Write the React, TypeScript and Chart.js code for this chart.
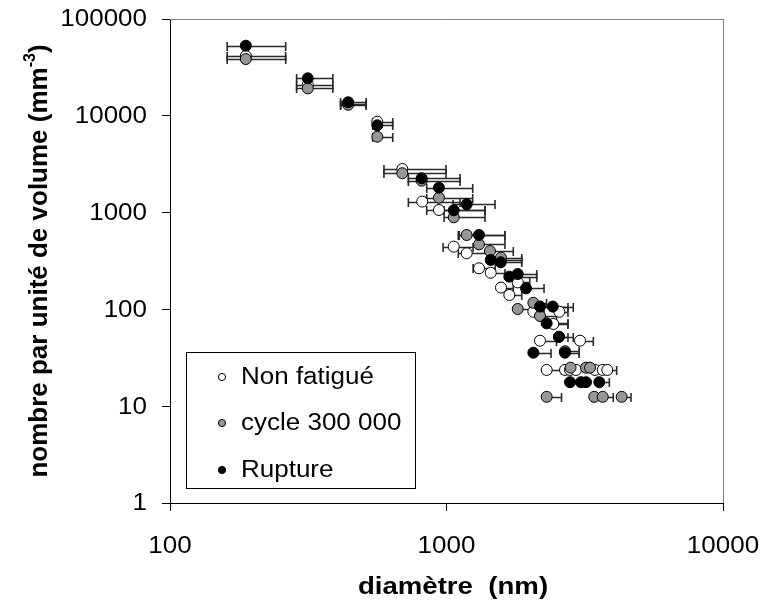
import React, { useEffect, useRef } from "react";
import { Chart, registerables } from "chart.js";

Chart.register(...registerables);

const SERIES_LABELS = ["Non fatigué", "cycle 300 000", "Rupture"];
const SERIES_FILLS = ["#ffffff", "#969696", "#000000"];
const X_TICKS = [100, 1000, 10000];
const Y_TICKS = [1, 10, 100, 1000, 10000, 100000];
const X_TITLE = "diamètre  (nm)";
const Y_TITLE_MAIN = "nombre par unité de volume (mm";
const Y_TITLE_SUP = "-3";
const Y_TITLE_END = ")";

// Non fatigué
const nfDiam = [188, 315, 441, 562, 692, 817, 939, 1062, 1183, 1311, 1445, 1574, 1687, 1810, 2061, 2558, 2434, 2178, 3040, 2303, 2683, 2797, 2940, 3445, 3673, 3815];
const nfDens = [41500, 21000, 13300, 8690, 2820, 1300, 1064, 445, 380, 266, 239, 168, 141, 190, 94.6, 94.6, 70.7, 47.5, 47.5, 23.7, 23.7, 23.7, 23.7, 23.7, 23.7, 23.7];
const nfLow = [161, 287, 414, 541, 594, 728, 848, 972, 1103, 1248, null, null, null, null, null, null, null, null, null, null, null, null, null, null, null, null];
const nfHigh = [262, 388, 512, 639, 996, 1119, 1378, 1248, 1436, 1500, 1627, 1744, 1871, 2000, 2253, 2750, 2750, 2500, 3396, 2606, null, null, null, null, null, 4126];

// cycle 300 000
const cyDiam = [188, 315, 441, 562, 692, 813, 939, 1062, 1183, 1311, 1436, 1574, 1810, 2061, 2178, 2551, 2683, 2810, 3196, 3304, 2303, 3423, 3673, 4301];
const cyDens = [38600, 19200, 13000, 6080, 2550, 2137, 1425, 894, 587, 470, 401, 342, 101, 117, 85.5, 52, 37, 25, 25, 25, 12.5, 12.5, 12.5, 12.5];
const cyLow = [161, 287, 414, 541, 594, 728, 848, 980, 1103, null, null, null, null, null, null, null, null, null, null, null, null, null, null, null];
const cyHigh = [262, 388, 512, 639, 996, 1119, 1244, 1378, 1627, 1627, 1744, 1871, 2000, 2300, 2500, 2750, 3018, null, null, null, 2606, null, 4010, 4649];

// Rupture
const ruDiam = [188, 315, 441, 562, 813, 939, 1183, 1062, 1311, 1445, 1571, 1687, 1810, 1940, 2178, 2422, 2303, 2551, 2061, 2683, 2797, 3065, 3196, 3569];
const ruDens = [53000, 24400, 13800, 7980, 2260, 1808, 1219, 1057, 587, 324, 307, 218, 232, 165, 107, 107, 71.8, 52.2, 35.7, 35.7, 17.7, 17.7, 17.7, 17.7];
const ruLow = [161, 287, 414, 541, 728, 848, 1056, 980, 1112, null, null, null, null, null, null, null, null, null, null, null, null, null, null, null];
const ruHigh = [262, 388, 512, 639, 1119, 1244, 1498, 1378, 1627, 1871, 1871, 2120, 2120, 2253, 2750, 2874, 2750, 2874, 2388, 3018, null, null, null, 3881];

const FONT = "'Liberation Sans', Arial, sans-serif";
const SX = 1.13; // horizontal stretch of the reference lettering

function stretchedText(ctx: any, text: string, x: number, y: number, font: string, align: string, sx: number) {
  ctx.save();
  ctx.font = font;
  ctx.textBaseline = "middle";
  ctx.textAlign = "left";
  const w = ctx.measureText(text).width * sx;
  let left = x;
  if (align === "center") left = x - w / 2;
  else if (align === "right") left = x - w;
  ctx.translate(left, y);
  ctx.scale(sx, 1);
  ctx.fillText(text, 0, 0);
  ctx.restore();
}

const errorBarPlugin = {
  id: "errorBars",
  beforeDatasetsDraw(chart: any) {
    const { ctx } = chart;
    const xs = chart.scales.x;
    const ys = chart.scales.y;
    ctx.save();
    ctx.strokeStyle = "#2a2a2a";
    ctx.lineWidth = 1.6;
    chart.data.datasets.forEach((ds: any) => {
      ds.data.forEach((p: any, j: number) => {
        const lo = ds.errLow[j] ?? p.x;
        const hi = ds.errHigh[j] ?? p.x;
        if (lo === p.x && hi === p.x) return;
        const py = Math.round(ys.getPixelForValue(p.y)) + 0.5;
        const x0 = xs.getPixelForValue(lo);
        const x1 = xs.getPixelForValue(hi);
        ctx.beginPath();
        ctx.moveTo(x0, py);
        ctx.lineTo(x1, py);
        if (lo !== p.x) {
          ctx.moveTo(x0, py - 4.5);
          ctx.lineTo(x0, py + 4.5);
        }
        if (hi !== p.x) {
          ctx.moveTo(x1, py - 4.5);
          ctx.lineTo(x1, py + 4.5);
        }
        ctx.stroke();
      });
    });
    ctx.restore();
  },
};

const decorPlugin = {
  id: "decor",
  beforeDatasetsDraw(chart: any) {
    const { ctx, chartArea } = chart;
    ctx.save();
    ctx.strokeStyle = "#808080";
    ctx.lineWidth = 1;
    ctx.beginPath();
    ctx.moveTo(chartArea.left, chartArea.top + 0.5);
    ctx.lineTo(chartArea.right + 0.5, chartArea.top + 0.5);
    ctx.lineTo(chartArea.right + 0.5, chartArea.bottom);
    ctx.stroke();
    ctx.restore();
  },
  afterDraw(chart: any) {
    const { ctx } = chart;
    const xs = chart.scales.x;
    const ys = chart.scales.y;
    ctx.save();
    ctx.fillStyle = "#000";
    // tick labels
    const tickFont = `23px ${FONT}`;
    Y_TICKS.forEach((v) => {
      stretchedText(ctx, String(v), 147, ys.getPixelForValue(v) + 1, tickFont, "right", SX);
    });
    X_TICKS.forEach((v) => {
      stretchedText(ctx, String(v), xs.getPixelForValue(v), 547, tickFont, "center", SX);
    });
    // x title
    stretchedText(ctx, X_TITLE, 453, 588, `bold 23px ${FONT}`, "center", 1.2);
    ctx.restore();

    // y title with superscript
    ctx.save();
    ctx.fillStyle = "#000";
    ctx.translate(38, 261);
    ctx.rotate(-Math.PI / 2);
    const mainFont = `bold 26px ${FONT}`;
    const supFont = `bold 16px ${FONT}`;
    ctx.font = mainFont;
    const w1 = ctx.measureText(Y_TITLE_MAIN).width;
    const w3 = ctx.measureText(Y_TITLE_END).width;
    ctx.font = supFont;
    const w2 = ctx.measureText(Y_TITLE_SUP).width;
    let x = -(w1 + w2 + w3) / 2;
    ctx.textAlign = "left";
    ctx.textBaseline = "alphabetic";
    ctx.font = mainFont;
    ctx.fillText(Y_TITLE_MAIN, x, 9);
    x += w1;
    ctx.font = supFont;
    ctx.fillText(Y_TITLE_SUP, x, -3);
    x += w2;
    ctx.font = mainFont;
    ctx.fillText(Y_TITLE_END, x, 9);
    ctx.restore();

    // legend
    ctx.save();
    const bx = 186, by = 352, bw = 229, bh = 136;
    ctx.fillStyle = "#fff";
    ctx.fillRect(bx, by, bw, bh);
    ctx.strokeStyle = "#000";
    ctx.lineWidth = 1;
    ctx.strokeRect(bx + 0.5, by + 0.5, bw, bh);
    const rows = [377, 423, 470];
    chart.data.datasets.forEach((ds: any, i: number) => {
      ctx.beginPath();
      ctx.arc(222, rows[i], 3.6, 0, Math.PI * 2);
      ctx.fillStyle = ds.backgroundColor;
      ctx.fill();
      ctx.strokeStyle = "#000";
      ctx.lineWidth = 1;
      ctx.stroke();
      ctx.fillStyle = "#000";
      stretchedText(ctx, ds.label, 241, rows[i] + 1, `23px ${FONT}`, "left", SX);
    });
    ctx.restore();
  },
};

function build(diam: number[], dens: number[]) {
  return diam.map((d, i) => ({ x: d, y: dens[i] }));
}

export default function App() {
  const ref = useRef<HTMLCanvasElement | null>(null);
  useEffect(() => {
    if (!ref.current) return;
    const mk = (i: number, diam: number[], dens: number[], lo: any[], hi: any[], order: number) => ({
      label: SERIES_LABELS[i],
      data: build(diam, dens),
      errLow: lo,
      errHigh: hi,
      backgroundColor: SERIES_FILLS[i],
      borderColor: "#000000",
      borderWidth: 1,
      pointRadius: 5.5,
      pointHoverRadius: 5.5,
      showLine: false,
      order,
    });
    const chart = new Chart(ref.current, {
      type: "scatter",
      data: {
        datasets: [
          mk(0, nfDiam, nfDens, nfLow, nfHigh, 3),
          mk(1, cyDiam, cyDens, cyLow, cyHigh, 2),
          mk(2, ruDiam, ruDens, ruLow, ruHigh, 1),
        ] as any,
      },
      options: {
        animation: false,
        responsive: false,
        devicePixelRatio: 1,
        events: [],
        layout: { padding: { top: 19, right: 38, left: 0, bottom: 0 } },
        plugins: { legend: { display: false }, tooltip: { enabled: false } },
        scales: {
          x: {
            type: "logarithmic",
            min: 100,
            max: 10000,
            afterBuildTicks: (s: any) => {
              s.ticks = X_TICKS.map((v) => ({ value: v }));
            },
            afterFit: (s: any) => {
              s.height = 109;
              s.paddingLeft = 0;
              s.paddingRight = 0;
              s.paddingTop = 0;
              s.paddingBottom = 0;
            },
            ticks: { display: false },
            grid: { drawOnChartArea: false, drawTicks: true, tickLength: 8, color: "#000" },
            border: { color: "#000", width: 1 },
          },
          y: {
            type: "logarithmic",
            min: 1,
            max: 100000,
            afterBuildTicks: (s: any) => {
              s.ticks = Y_TICKS.map((v) => ({ value: v }));
            },
            afterFit: (s: any) => {
              s.width = 170;
              s.paddingLeft = 0;
              s.paddingRight = 0;
              s.paddingTop = 0;
              s.paddingBottom = 0;
            },
            ticks: { display: false },
            grid: { drawOnChartArea: false, drawTicks: true, tickLength: 8, color: "#000" },
            border: { color: "#000", width: 1 },
          },
        },
      } as any,
      plugins: [errorBarPlugin, decorPlugin],
    });
    return () => chart.destroy();
  }, []);
  return (
    <div style={{ position: "absolute", left: 0, top: 0, width: 761, height: 612, background: "#fff" }}>
      <canvas ref={ref} width={761} height={612} style={{ width: 761, height: 612 }} />
    </div>
  );
}
